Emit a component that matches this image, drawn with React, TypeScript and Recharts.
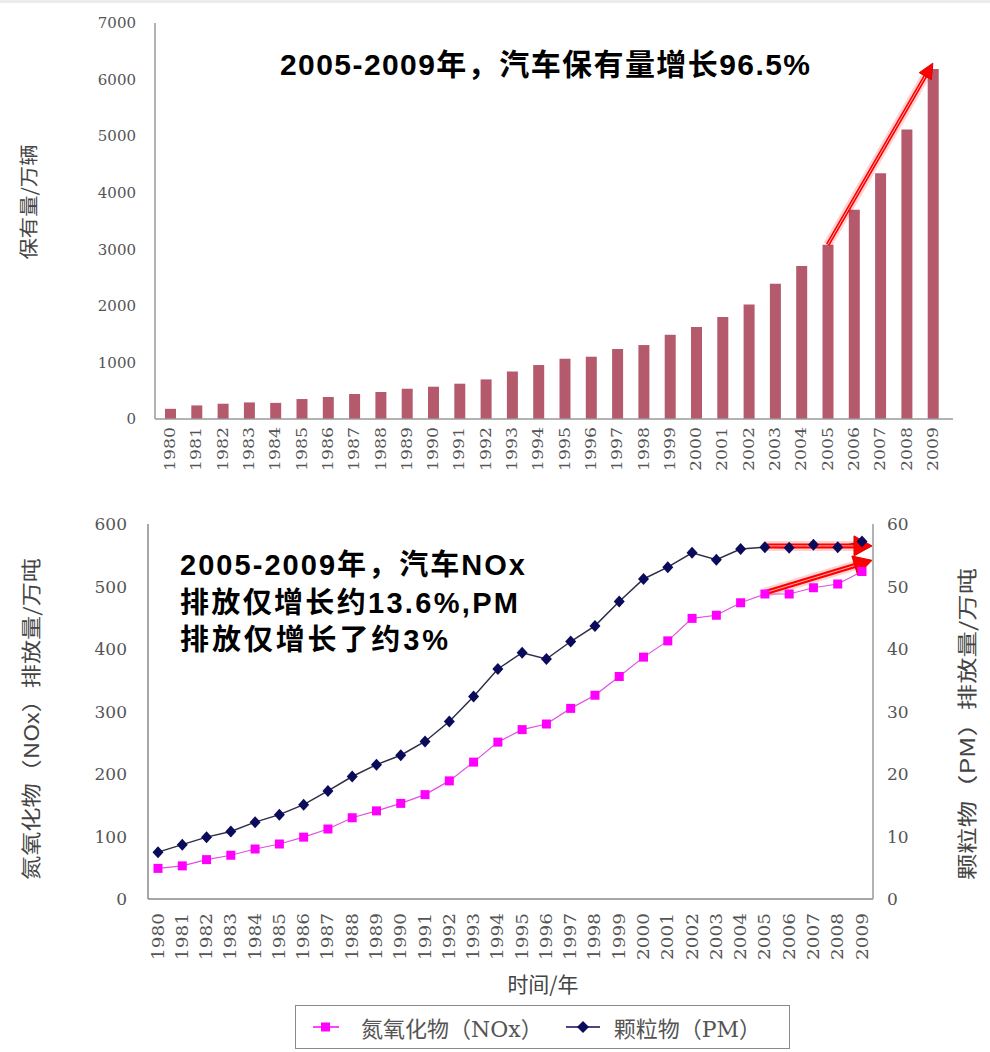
import React from 'react';
import {
  BarChart,
  Bar,
  XAxis,
  YAxis,
  LineChart,
  Line,
  ReferenceLine,
  Legend,
  Customized,
} from 'recharts';

// ---------- data ----------
const years = [
  '1980', '1981', '1982', '1983', '1984', '1985', '1986', '1987', '1988', '1989',
  '1990', '1991', '1992', '1993', '1994', '1995', '1996', '1997', '1998', '1999',
  '2000', '2001', '2002', '2003', '2004', '2005', '2006', '2007', '2008', '2009',
];
const vehicleStock = [
  180, 240, 270, 293, 285, 353, 389, 442, 477, 535,
  571, 624, 700, 841, 954, 1065, 1101, 1237, 1307, 1489,
  1625, 1802, 2025, 2390, 2703, 3080, 3698, 4346, 5117, 6189,
];
const noxEmission = [
  49, 53, 63, 70, 80, 88, 99, 112, 130, 141,
  153, 167, 189, 219, 251, 271, 280, 305, 326, 356,
  387, 413, 449, 454, 474, 488, 488, 498, 504, 524,
];
const pmEmission = [
  7.5, 8.7, 9.9, 10.8, 12.3, 13.5, 15.1, 17.3, 19.6, 21.5,
  23.0, 25.2, 28.4, 32.4, 36.8, 39.4, 38.4, 41.2, 43.7, 47.6,
  51.2, 53.1, 55.4, 54.3, 56.0, 56.3, 56.2, 56.7, 56.3, 57.2,
];
const stockTicks = [0, 1000, 2000, 3000, 4000, 5000, 6000, 7000];
const noxTicks = [0, 100, 200, 300, 400, 500, 600];
const pmTicks = [0, 10, 20, 30, 40, 50, 60];

const stockArrow = [
  { x: '2005', y: 3080 },
  { x: '2009', y: 6290 },
];
const pmArrow = [
  { x: '2005', y: 56.5 },
  { x: '2009', y: 56.5 },
];
const noxArrow = [
  { x: '2005', y: 490 },
  { x: '2009', y: 537 },
];

const stockData = years.map((year, i) => ({ year, stock: vehicleStock[i] }));
const emissionData = years.map((year, i) => ({
  year,
  nox: noxEmission[i],
  pm: pmEmission[i],
}));

// ---------- styles ----------
const SERIF = "'DejaVu Serif', 'Noto Sans CJK SC', serif";
const CJK = "'Noto Sans CJK SC', 'DejaVu Serif', sans-serif";
const BOLD = "'Liberation Sans', Arial, 'Noto Sans CJK SC', sans-serif";
const AXIS_GREY = '#9a9a9a';
const TEXT_GREY = '#555555';
const TITLE_GREY = '#444444';

function makeYearTick(fontSize: number, length: number) {
  return (props: any) => {
    const { x, y, payload } = props;
    return (
      <text
        x={x}
        y={y}
        transform={`rotate(-90 ${x} ${y})`}
        textAnchor="end"
        dominantBaseline="central"
        fontFamily={SERIF}
        fontSize={fontSize}
        fill={TEXT_GREY}
        textLength={length}
        lengthAdjust="spacingAndGlyphs"
      >
        {payload.value}
      </text>
    );
  };
}

function makeArrow(extendX: number, head: number, half: number, width: number) {
  return (p: any) => {
    let { x1, y1, x2, y2 } = p;
    if ([x1, y1, x2, y2].some((v) => typeof v !== 'number' || isNaN(v))) return <g />;
    let dx = x2 - x1;
    let dy = y2 - y1;
    if (extendX && dx !== 0) {
      const k = (dx + extendX) / dx;
      x2 = x1 + dx * k;
      y2 = y1 + dy * k;
      dx = x2 - x1;
      dy = y2 - y1;
    }
    const len = Math.hypot(dx, dy) || 1;
    const ux = dx / len;
    const uy = dy / len;
    const bx = x2 - ux * head;
    const by = y2 - uy * head;
    const px = -uy;
    const py = ux;
    return (
      <g>
        <line x1={x1} y1={y1} x2={bx} y2={by} stroke="rgba(255,0,0,0.18)" strokeWidth={width + 5} />
        <line x1={x1} y1={y1} x2={bx + ux * 2} y2={by + uy * 2} stroke="#ff0000" strokeWidth={width} />
        <line x1={x1} y1={y1} x2={bx} y2={by} stroke="#ffb0b0" strokeWidth={1} />
        <polygon
          points={`${x2},${y2} ${bx + px * half},${by + py * half} ${bx - px * half},${by - py * half}`}
          fill="#ff0000"
          stroke="#e00000"
          strokeWidth={1}
        />
      </g>
    );
  };
}

const squareDot = (p: any) => (
  <rect key={`nox-${p.index}`} x={p.cx - 4.5} y={p.cy - 4.5} width={9} height={9} fill="#ff00ff" />
);
const diamondDot = (p: any) => (
  <polygon
    key={`pm-${p.index}`}
    points={`${p.cx},${p.cy - 6} ${p.cx + 5.5},${p.cy} ${p.cx},${p.cy + 6} ${p.cx - 5.5},${p.cy}`}
    fill="#0b0b5c"
  />
);

const TopTexts = () => (
  <g>
    <text
      x={27}
      y={202}
      transform="rotate(-90 27 202)"
      textAnchor="middle"
      dominantBaseline="central"
      fontFamily={CJK}
      fontSize={19}
      fill={TITLE_GREY}
      textLength={115}
      lengthAdjust="spacingAndGlyphs"
    >
      保有量/万辆
    </text>
    <text
      x={280}
      y={75}
      fontFamily={BOLD}
      fontWeight="bold"
      fontSize={30}
      fill="#000"
      textLength={530}
      lengthAdjust="spacing"
    >
      2005-2009年，汽车保有量增长96.5%
    </text>
  </g>
);

const BottomTexts = () => (
  <g>
    <text
      x={30}
      y={239}
      transform="rotate(-90 30 239)"
      textAnchor="middle"
      dominantBaseline="central"
      fontFamily={CJK}
      fontSize={20}
      fill={TITLE_GREY}
      textLength={322}
      lengthAdjust="spacingAndGlyphs"
    >
      氮氧化物（NOx）排放量/万吨
    </text>
    <text
      x={966}
      y={244}
      transform="rotate(-90 966 244)"
      textAnchor="middle"
      dominantBaseline="central"
      fontFamily={CJK}
      fontSize={20}
      fill={TITLE_GREY}
      textLength={312}
      lengthAdjust="spacingAndGlyphs"
    >
      颗粒物（PM）排放量/万吨
    </text>
    <text
      x={543}
      y={503}
      textAnchor="middle"
      dominantBaseline="central"
      fontFamily={CJK}
      fontSize={21}
      fill={TITLE_GREY}
    >
      时间/年
    </text>
    <g fontFamily={BOLD} fontWeight="bold" fontSize={29} fill="#000">
      <text x={180} y={95} textLength={345} lengthAdjust="spacing">
        2005-2009年，汽车NOx
      </text>
      <text x={180} y={133} textLength={338} lengthAdjust="spacing">
        排放仅增长约13.6%,PM
      </text>
      <text x={180} y={170} textLength={268} lengthAdjust="spacing">
        排放仅增长了约3%
      </text>
    </g>
  </g>
);

const renderLegend = (props: any) => {
  const payload = props.payload || [];
  return (
    <div
      style={{
        boxSizing: 'border-box',
        width: 495,
        height: 44,
        border: '1.5px solid #8a8a8a',
        display: 'flex',
        alignItems: 'center',
        fontFamily: SERIF,
        fontSize: 22,
        color: TEXT_GREY,
        background: '#fff',
        whiteSpace: 'nowrap',
      }}
    >
      {payload.map((entry: any, i: number) => {
        const isNox = entry.dataKey === 'nox';
        return (
          <React.Fragment key={entry.value}>
            <svg
              width={isNox ? 26 : 34}
              height={14}
              style={{ marginLeft: i === 0 ? 17 : 23, display: 'block' }}
            >
              <line
                x1={0}
                y1={7}
                x2={isNox ? 26 : 34}
                y2={7}
                stroke={isNox ? '#ff00ff' : '#0b0b5c'}
                strokeWidth={1.5}
              />
              {isNox ? (
                <rect x={8} y={2.5} width={9} height={9} fill="#ff00ff" />
              ) : (
                <polygon points="17,1 23,7 17,13 11,7" fill="#0b0b5c" />
              )}
            </svg>
            <span style={{ marginLeft: isNox ? 22 : 14 }}>{entry.value}</span>
          </React.Fragment>
        );
      })}
    </div>
  );
};

export default function App() {
  return (
    <div
      style={{
        position: 'absolute',
        left: 0,
        top: 0,
        width: 990,
        height: 1052,
        background: '#fff',
        overflow: 'hidden',
      }}
    >
      <div style={{ position: 'absolute', left: 0, top: 0, width: 990, height: 3, background: '#ececec' }} />
      <div style={{ position: 'absolute', left: 0, top: 0 }}>
        <BarChart width={990} height={480} data={stockData} margin={{ top: 23, right: 37, left: 0, bottom: 0 }}>
          <XAxis
            dataKey="year"
            height={61}
            interval={0}
            tickSize={0}
            tickMargin={8}
            tick={makeYearTick(15, 44)}
            tickLine={false}
            axisLine={{ stroke: AXIS_GREY, strokeWidth: 1.5 }}
            padding={{ left: 2, right: 7 }}
          />
          <XAxis
            xAxisId="top"
            dataKey="year"
            orientation="top"
            height={0}
            tick={false}
            tickLine={false}
            axisLine={{ stroke: AXIS_GREY, strokeWidth: 1.5 }}
          />
          <YAxis
            width={155}
            domain={[0, 7000]}
            ticks={stockTicks}
            interval={0}
            tickSize={0}
            tickMargin={19}
            tickLine={false}
            axisLine={{ stroke: AXIS_GREY, strokeWidth: 1.5 }}
            tick={{ fontFamily: SERIF, fontSize: 15, fill: TEXT_GREY }}
          />
          <YAxis
            yAxisId="right"
            orientation="right"
            width={0}
            domain={[0, 7000]}
            tick={false}
            tickLine={false}
            axisLine={{ stroke: AXIS_GREY, strokeWidth: 1.5 }}
          />
          <Bar dataKey="stock" fill="#b45a6c" barSize={11} isAnimationActive={false} />
          <ReferenceLine segment={stockArrow} shape={makeArrow(0, 15, 7, 4)} />
          <Customized component={<TopTexts />} />
        </BarChart>
      </div>
      <div style={{ position: 'absolute', left: 0, top: 480 }}>
        <LineChart width={990} height={572} data={emissionData} margin={{ top: 44, right: 0, left: 0, bottom: 0 }}>
          <XAxis
            dataKey="year"
            height={153}
            interval={0}
            tickSize={0}
            tickMargin={14}
            tick={makeYearTick(16, 47)}
            tickLine={false}
            axisLine={{ stroke: '#8a8a8a', strokeWidth: 1.5 }}
            padding={{ left: 10, right: 11 }}
          />
          <XAxis
            xAxisId="top"
            dataKey="year"
            orientation="top"
            height={0}
            tick={false}
            tickLine={false}
            axisLine={{ stroke: AXIS_GREY, strokeWidth: 1.5 }}
          />
          <YAxis
            yAxisId="nox"
            width={148}
            domain={[0, 600]}
            ticks={noxTicks}
            interval={0}
            tickSize={0}
            tickMargin={21}
            tickLine={false}
            axisLine={{ stroke: '#8a8a8a', strokeWidth: 1.5 }}
            tick={{ fontFamily: SERIF, fontSize: 17, fill: TEXT_GREY }}
          />
          <YAxis
            yAxisId="pm"
            orientation="right"
            width={117}
            domain={[0, 60]}
            ticks={pmTicks}
            interval={0}
            tickSize={0}
            tickMargin={14}
            tickLine={false}
            axisLine={{ stroke: AXIS_GREY, strokeWidth: 1.5 }}
            tick={{ fontFamily: SERIF, fontSize: 17, fill: TEXT_GREY }}
          />
          <Line
            yAxisId="nox"
            dataKey="nox"
            name="氮氧化物（NOx）"
            stroke="#e050e0"
            strokeWidth={1.2}
            dot={squareDot}
            activeDot={false}
            isAnimationActive={false}
          />
          <Line
            yAxisId="pm"
            dataKey="pm"
            name="颗粒物（PM）"
            stroke="#2e2e48"
            strokeWidth={1.5}
            dot={diamondDot}
            activeDot={false}
            isAnimationActive={false}
          />
          <ReferenceLine yAxisId="pm" segment={pmArrow} shape={makeArrow(10, 18, 10, 5)} />
          <ReferenceLine yAxisId="nox" segment={noxArrow} shape={makeArrow(10, 18, 10, 5)} />
          <Legend
            layout="horizontal"
            verticalAlign="middle"
            align="center"
            content={renderLegend}
            wrapperStyle={{ left: 295, top: 525, width: 495, height: 44, margin: 0 }}
          />
          <Customized component={<BottomTexts />} />
        </LineChart>
      </div>
    </div>
  );
}
